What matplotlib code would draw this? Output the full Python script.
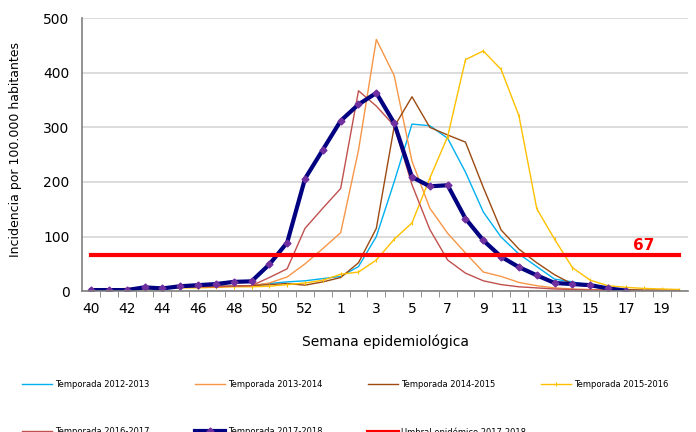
import matplotlib
matplotlib.use("Agg")
import matplotlib.pyplot as plt
import numpy as np

# Semanas epidemiologicas (temporada 40 -> 20, con semana 53)
weeks = [40, 41, 42, 43, 44, 45, 46, 47, 48, 49, 50, 51, 52, 53,
         1, 2, 3, 4, 5, 6, 7, 8, 9, 10, 11, 12, 13, 14, 15, 16, 17, 18, 19, 20]

t2012_2013 = [2, 3, 4, 5, 6, 7, 8, 9, 9, 10, 14, 17, 19, 23, 27, 45, 100, 200, 306, 303,
              280, 218, 145, 99, 68, 45, 22, 17, 11, 5, 2, 1, 1, 1]
t2013_2014 = [2, 3, 5, 6, 7, 8, 8, 9, 9, 10, 15, 26, 50, 78, 107, 258, 461, 395, 238, 152,
              106, 70, 35, 27, 16, 10, 6, 4, 3, 2, 2, 1, 1, 1]
t2014_2015 = [2, 3, 4, 5, 6, 7, 8, 9, 9, 10, 12, 14, 11, 17, 25, 52, 115, 301, 356, 300,
              286, 273, 190, 112, 77, 52, 30, 13, 8, 5, 3, 2, 2, 1]
t2015_2016 = [1, 2, 3, 4, 5, 6, 6, 7, 8, 8, 9, 12, 15, 20, 31, 35, 57, 95, 125, 207,
              283, 424, 440, 406, 321, 151, 95, 43, 20, 10, 7, 5, 4, 3]
t2016_2017 = [2, 3, 4, 5, 6, 7, 8, 8, 9, 10, 25, 41, 115, 152, 188, 367, 339, 303, 195, 113,
              57, 33, 19, 12, 8, 6, 4, 3, 2, 2, 1, 1, 1, 1]
t2017_2018 = [2, 2, 2, 7, 5, 9, 11, 13, 17, 18, 49, 89, 206, 259, 312, 342, 363, 308, 209, 192,
              194, 133, 93, 63, 44, 29, 15, 13, 11, 5, 1]
umbral = 67

x = np.arange(len(weeks))
x_cur = np.arange(len(t2017_2018))

fig, ax = plt.subplots(figsize=(6.96, 4.32), dpi=100)
fig.subplots_adjust(left=0.118, right=0.989, top=0.958, bottom=0.326)

l1, = ax.plot(x, t2012_2013, color="#00B0F0", lw=1.0, label="Temporada 2012-2013")
l2, = ax.plot(x, t2013_2014, color="#F79646", lw=1.0, label="Temporada 2013-2014")
l3, = ax.plot(x, t2014_2015, color="#9C4A12", lw=1.0, label="Temporada 2014-2015")
l4, = ax.plot(x, t2015_2016, color="#FFC000", lw=1.0, marker="|", ms=2.5, mew=0.8,
              label="Temporada 2015-2016")
l5, = ax.plot(x, t2016_2017, color="#C0504D", lw=1.0, label="Temporada 2016-2017")
l6, = ax.plot(x_cur, t2017_2018, color="#000080", lw=3.0, marker="D", ms=3.5,
              mfc="#7030A0", mec="#7030A0", label="Temporada 2017-2018")
l7, = ax.plot(x, [umbral] * len(x), color="#FF0000", lw=3.0,
              label="Umbral epidémico 2017-2018")
ax.text(31, 84, str(umbral), color="#FF0000", fontsize=11, fontweight="bold",
        ha="center", va="center")

ax.set_xlim(-0.5, len(weeks) - 0.5)
ax.set_ylim(0, 500)
ax.set_yticks(range(0, 501, 100))
ax.yaxis.grid(True, color="#D9D9D9", lw=1.3)
ax.set_axisbelow(True)

# etiquetas cada dos semanas, marcas entre categorias
ax.set_xticks(x[::2])
ax.set_xticklabels([str(w) for w in weeks[::2]])
ax.set_xticks(x[:-1] + 0.5, minor=True)
ax.tick_params(axis="x", which="major", length=0, pad=8, labelsize=10)
ax.tick_params(axis="x", which="minor", length=4, color="#808080", direction="out")
ax.tick_params(axis="y", length=0, pad=9, labelsize=10)

for s in ["top", "right"]:
    ax.spines[s].set_visible(False)
for s in ["left", "bottom"]:
    ax.spines[s].set_color("#808080")
    ax.spines[s].set_linewidth(1.2)

ax.set_ylabel("Incidencia por 100.000 habitantes", fontsize=9)
ax.yaxis.set_label_coords(-0.099, 0.52)
ax.set_xlabel("Semana epidemiológica", fontsize=10)
ax.xaxis.set_label_coords(0.5, -0.157)

# leyenda en 4 columnas de ancho fijo (una leyenda por columna)
columns = [[l1, l5], [l2, l6], [l3, l7], [l4]]
col_x = [22, 195, 368, 541]
for hs, cx in zip(columns, col_x):
    fig.legend(hs, [h.get_label() for h in hs], loc="upper left",
               bbox_to_anchor=(cx / 696, 0.121), frameon=False,
               fontsize=6.0, handlelength=3.6, handletextpad=0.35,
               labelspacing=4.6, borderpad=0, borderaxespad=0)

plt.savefig("out.png", dpi=100)
